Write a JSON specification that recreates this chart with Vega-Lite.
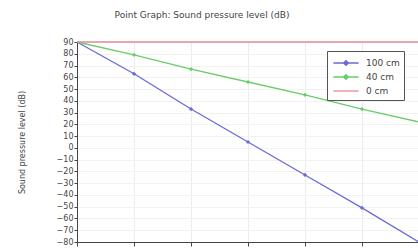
{
  "$schema": "https://vega.github.io/schema/vega-lite/v6.json",
  "width": 342,
  "height": 200,
  "autosize": {"type": "none"},
  "padding": {"left": 77, "top": 42, "right": 0, "bottom": 6},
  "background": "white",
  "title": {
    "text": "Point Graph: Sound pressure level (dB)",
    "fontSize": 9,
    "fontWeight": "normal",
    "font": "DejaVu Sans",
    "color": "#444",
    "dx": -46,
    "offset": 18
  },
  "config": {
    "view": {"stroke": null},
    "axis": {"labelFont": "DejaVu Sans", "titleFont": "DejaVu Sans", "labelColor": "#444", "titleColor": "#444"}
  },
  "data": {
    "values": [
      {"x": 0, "series": "100 cm", "spl": 90},
      {"x": 1, "series": "100 cm", "spl": 63},
      {"x": 2, "series": "100 cm", "spl": 33},
      {"x": 3, "series": "100 cm", "spl": 5},
      {"x": 4, "series": "100 cm", "spl": -23},
      {"x": 5, "series": "100 cm", "spl": -51},
      {"x": 6, "series": "100 cm", "spl": -80},
      {"x": 0, "series": "40 cm", "spl": 90},
      {"x": 1, "series": "40 cm", "spl": 79},
      {"x": 2, "series": "40 cm", "spl": 67},
      {"x": 3, "series": "40 cm", "spl": 56},
      {"x": 4, "series": "40 cm", "spl": 45},
      {"x": 5, "series": "40 cm", "spl": 33},
      {"x": 6, "series": "40 cm", "spl": 22},
      {"x": 0, "series": "0 cm", "spl": 90},
      {"x": 1, "series": "0 cm", "spl": 90},
      {"x": 2, "series": "0 cm", "spl": 90},
      {"x": 3, "series": "0 cm", "spl": 90},
      {"x": 4, "series": "0 cm", "spl": 90},
      {"x": 5, "series": "0 cm", "spl": 90},
      {"x": 6, "series": "0 cm", "spl": 90}
    ]
  },
  "encoding": {
    "x": {
      "field": "x", "type": "quantitative",
      "scale": {"domain": [0, 6], "nice": false, "zero": false},
      "axis": {"title": null, "labels": false, "values": [0,1,2,3,4,5,6], "tickSize": 4, "tickColor": "#444", "domainColor": "#444", "gridColor": "#ececec", "grid": true}
    },
    "y": {
      "field": "spl", "type": "quantitative",
      "scale": {"domain": [-80, 90], "nice": false, "zero": false},
      "axis": {
        "title": "Sound pressure level (dB)",
        "titleFontSize": 8, "titleFontWeight": "normal", "titlePadding": 30,
        "labelFontSize": 8, "values": [90,80,70,60,50,40,30,20,10,0,-10,-20,-30,-40,-50,-60,-70,-80],
        "tickSize": 3, "labelPadding": 1, "tickColor": "#444", "domainColor": "#444", "gridColor": "#f2f2f2", "grid": true
      }
    },
    "color": {
      "field": "series", "type": "nominal",
      "scale": {"domain": ["100 cm", "40 cm", "0 cm"], "range": ["#6a6ad8", "#6acd6a", "#e58a94"]},
      "legend": {
        "title": null, "orient": "none", "legendX": 250, "legendY": 9,
        "strokeColor": "#555", "fillColor": "white", "padding": 4,
        "symbolType": "M-1.8,0H1.8M-0.35,0L0,-0.35L0.35,0L0,0.35Z", "symbolSize": 196, "symbolStrokeWidth": 1.3,
        "labelFontSize": 9, "labelFont": "DejaVu Sans", "labelColor": "#444",
        "rowPadding": -1, "symbolOffset": 7, "labelOffset": 12,
        "encode": {
          "symbols": {
            "update": {
              "shape": {"signal": "datum.value === '0 cm' ? 'M-1.8,0H1.8' : 'M-1.8,0H1.8M-0.35,0L0,-0.35L0.35,0L0,0.35Z'"}
            }
          }
        }
      }
    }
  },
  "layer": [
    {"mark": {"type": "line", "strokeWidth": 1.3}},
    {
      "transform": [{"filter": "datum.series != '0 cm' && datum.x > 0 && datum.x < 6"}],
      "mark": {"type": "point", "shape": "diamond", "filled": true, "size": 18, "opacity": 1}
    }
  ]
}
